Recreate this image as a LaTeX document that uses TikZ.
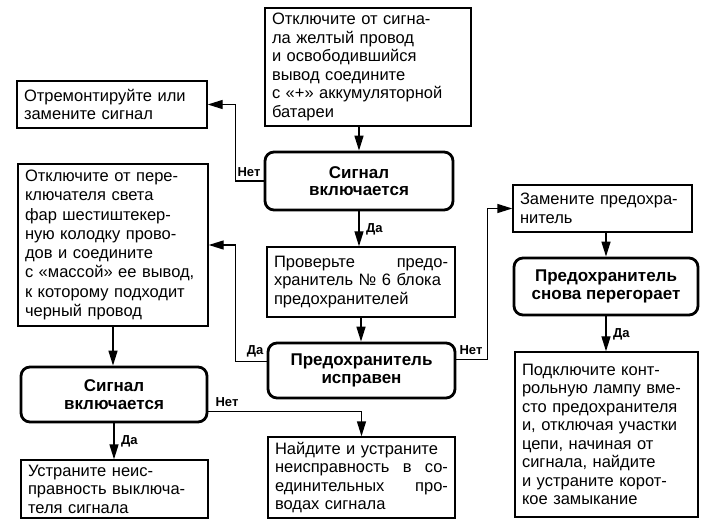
\documentclass[tikz,border=0pt]{standalone}
\usepackage{fontspec}
\setmainfont{Liberation Sans}
\usetikzlibrary{arrows.meta}

\begin{document}
\begin{tikzpicture}[
    x=1pt, y=-1pt,
    every node/.style={anchor=center, font=\fontsize{16.5}{18.5}\selectfont},
    action/.style={draw, line width=1.4pt, align=left, inner xsep=7pt, inner ysep=0pt},
    decision/.style={draw, line width=2.8pt, rounded corners=9pt, align=center, font=\fontsize{17}{17.5}\selectfont\bfseries},
    answer/.style={font=\fontsize{13}{14}\selectfont\bfseries, inner xsep=2.5pt, inner ysep=4pt},
    arrow/.style={-{Triangle[length=15pt, width=9pt]}, line width=1.4pt}
    ]
\useasboundingbox (0,0) rectangle (725,526);

% Top of the chart
\node[action, text width=192pt, minimum height=118pt] (yellow) at (368,67) {Отключите от сигна-\\ла желтый провод\\и освободившийся\\вывод соедините\\с~«+»~аккумуляторной\\батареи};
\node[action, text width=176pt, minimum height=47pt] (repair) at (112,104.5) {Отремонтируйте или\\замените сигнал};
\node[decision, minimum width=188pt, minimum height=58pt] (horn1) at (359,181) {Сигнал\\включается};

% Middle column
\node[action, text width=174pt, minimum height=70pt] (check) at (361,282) {Проверьте\hfill предо-\\хранитель~№~6~блока\\предохранителей};
\node[decision, minimum width=187pt, minimum height=55pt] (fuseok) at (361.5,370.5) {Предохранитель\\исправен};
\node[action, text width=173pt, minimum height=81pt] (wires) at (361.5,477.5) {Найдите~и~устраните\\неисправность\hfill в\hfill со-\\единительных\hfill про-\\водах сигнала};

% Left column
\node[action, text width=176pt, minimum height=162pt, font=\fontsize{16.5}{19.3}\selectfont] (switch) at (113,245) {Отключите от пере-\\ключателя света\\фар шестиштекер-\\ную колодку прово-\\дов и соедините\\с~«массой»~ее~вывод,\\к~которому~подходит\\черный провод};
\node[decision, minimum width=186pt, minimum height=55pt] (horn2) at (114,394.5) {Сигнал\\включается};
\node[action, text width=173pt, minimum height=58pt] (fixsw) at (114.5,489) {Устраните неис-\\правность~выключа-\\теля сигнала};

% Right column
\node[action, text width=165pt, minimum height=47pt] (replace) at (602.5,208.5) {Замените~предохра-\\нитель};
\node[decision, minimum width=184pt, minimum height=57pt] (again) at (606,286.5) {Предохранитель\\снова перегорает};
\node[action, text width=169pt, minimum height=165pt] (lamp) at (606.5,434.5) {Подключите конт-\\рольную~лампу~вме-\\сто~предохранителя\\и,~отключая~участки\\цепи, начиная от\\сигнала, найдите\\и~устраните~корот-\\кое замыкание};

% Arrows
\draw[arrow] (horn1.north |- yellow.south) -- (horn1.north);
\draw[arrow] (horn1.west) -- node[answer, pos=0, above left] {Нет} ++(-28,0) |- (repair.east);
\draw[arrow] (horn1.south) -- node[answer, right=4pt] {Да} (horn1.south |- check.north);
\draw[arrow] (check.south) -- (check.south |- fuseok.north);
\draw[arrow] ([yshift=9pt]fuseok.west) -- node[answer, pos=0, above left] {Да} ++(-31,0) |- (switch.east);
\draw[arrow] ([yshift=11pt]fuseok.east) -- node[answer, pos=0, above right] {Нет} ++(31,0) |- (replace.west);
\draw[arrow] (again.north |- replace.south) -- (again.north);
\draw[arrow] (again.south) -- node[answer, right=4pt] {Да} (again.south |- lamp.north);
\draw[arrow] (switch.south) -- (switch.south |- horn2.north);
\draw[arrow] (horn2.south) -- node[answer, right=4pt] {Да} (horn2.south |- fixsw.north);
\draw[arrow] ([yshift=-17pt]horn2.east) -| node[answer, pos=0, above right, xshift=4pt] {Нет} (wires.north);

\end{tikzpicture}
\end{document}
